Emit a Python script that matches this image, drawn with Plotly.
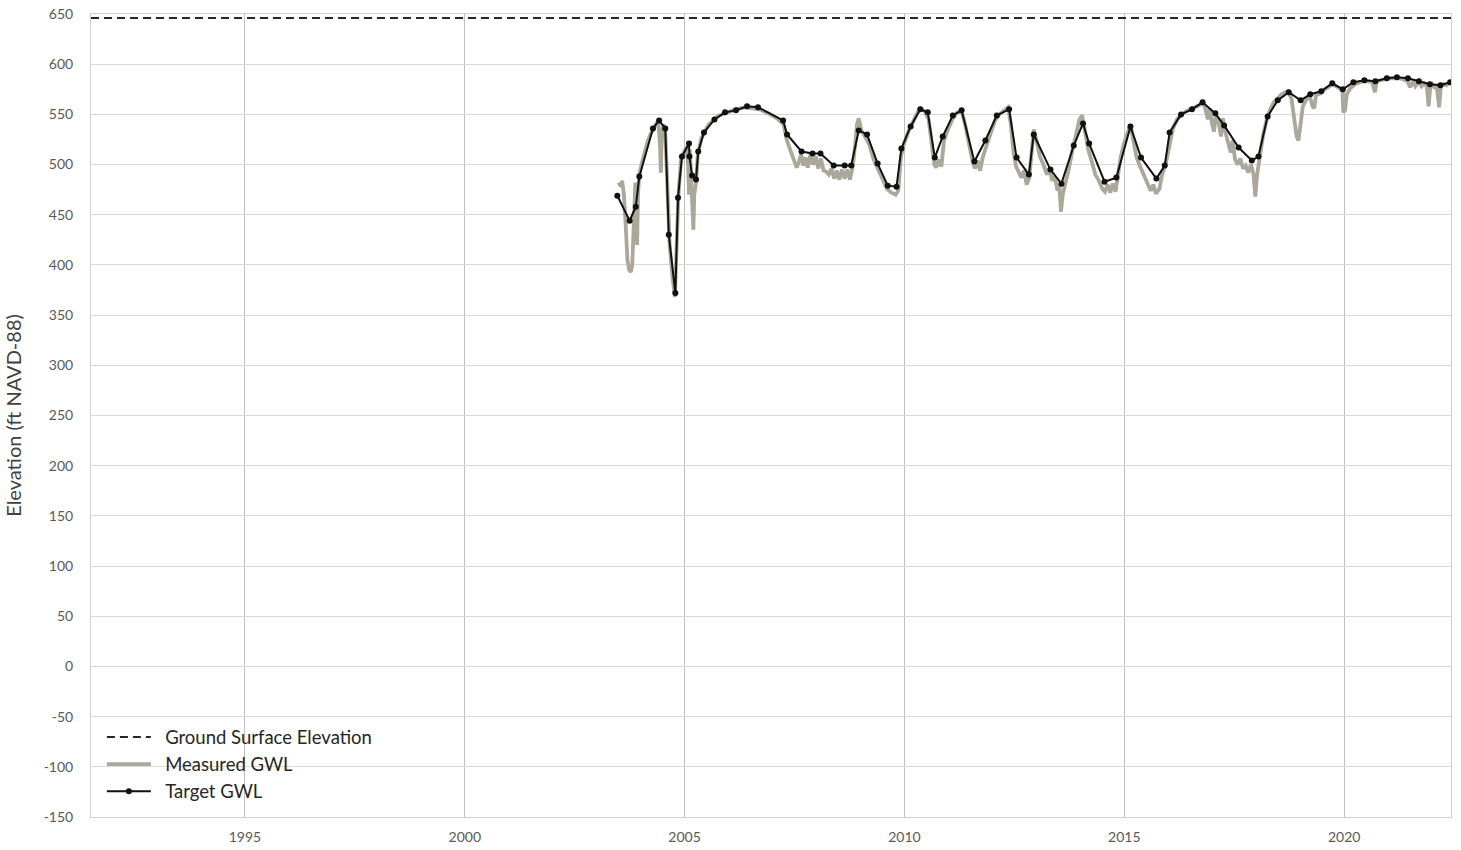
import plotly.graph_objects as go

# Ground surface elevation at the well (ft NAVD-88)
ground_elev = 646.0
axis_years = [1991.5, 2022.43]

# Target groundwater levels (decimal year, ft NAVD-88)
target_year = [2003.47, 2003.75, 2003.89, 2003.97, 2004.28, 2004.42, 2004.56, 2004.64, 2004.79, 2004.85,
               2004.94, 2005.10, 2005.11, 2005.17, 2005.26, 2005.31, 2005.44, 2005.68, 2005.92, 2006.17,
               2006.42, 2006.67, 2007.24, 2007.33, 2007.66, 2007.91, 2008.09, 2008.39, 2008.64, 2008.79,
               2008.96, 2009.15, 2009.39, 2009.62, 2009.82, 2009.93, 2010.14, 2010.36, 2010.53, 2010.69,
               2010.87, 2011.10, 2011.30, 2011.59, 2011.84, 2012.10, 2012.38, 2012.55, 2012.83, 2012.94,
               2013.32, 2013.57, 2013.85, 2014.06, 2014.20, 2014.55, 2014.82, 2015.14, 2015.38, 2015.73,
               2015.92, 2016.03, 2016.29, 2016.54, 2016.78, 2017.07, 2017.27, 2017.60, 2017.90, 2018.05,
               2018.26, 2018.49, 2018.74, 2019.01, 2019.23, 2019.48, 2019.73, 2019.97, 2020.21, 2020.46,
               2020.71, 2020.97, 2021.20, 2021.45, 2021.70, 2021.95, 2022.19, 2022.41]
target_val = [469, 444, 458, 488, 536, 544, 536, 430, 372, 467,
              508, 521, 508, 489, 485, 513, 532, 545, 552, 554,
              558, 557, 544, 530, 513, 511, 511, 499, 499, 499,
              534, 530, 501, 479, 478, 516, 538, 555, 552, 507,
              528, 549, 554, 503, 524, 549, 555, 507, 490, 530,
              495, 481, 519, 541, 521, 483, 487, 538, 507, 486,
              499, 532, 550, 555, 562, 551, 539, 517, 504, 508,
              548, 564, 572, 564, 570, 573, 581, 575, 582, 584,
              583, 586, 587, 586, 583, 580, 579, 582]

# Measured groundwater levels (decimal year, ft NAVD-88)
meas_year = [2003.50, 2003.55, 2003.58, 2003.62, 2003.66, 2003.70, 2003.74, 2003.78, 2003.81, 2003.84,
             2003.86, 2003.88, 2003.90, 2003.92, 2003.94, 2003.97, 2004.02, 2004.08, 2004.15, 2004.22,
             2004.30, 2004.36, 2004.40, 2004.44, 2004.46, 2004.48, 2004.52, 2004.56, 2004.60, 2004.66,
             2004.72, 2004.78, 2004.82, 2004.86, 2004.92, 2004.98, 2005.04, 2005.08, 2005.10, 2005.12,
             2005.15, 2005.18, 2005.20, 2005.22, 2005.26, 2005.30, 2005.38, 2005.46, 2005.55, 2005.65,
             2005.75, 2005.85, 2005.95, 2006.10, 2006.25, 2006.40, 2006.55, 2006.70, 2006.90, 2007.10,
             2007.25, 2007.32, 2007.40, 2007.48, 2007.55, 2007.60, 2007.65, 2007.70, 2007.75, 2007.80,
             2007.86, 2007.92, 2007.98, 2008.04, 2008.10, 2008.16, 2008.22, 2008.28, 2008.34, 2008.40,
             2008.46, 2008.52, 2008.58, 2008.64, 2008.70, 2008.76, 2008.82, 2008.88, 2008.92, 2008.96,
             2009.02, 2009.10, 2009.20, 2009.30, 2009.40, 2009.50, 2009.60, 2009.70, 2009.80, 2009.86,
             2009.92, 2010.00, 2010.10, 2010.20, 2010.30, 2010.38, 2010.46, 2010.55, 2010.62, 2010.68,
             2010.72, 2010.78, 2010.84, 2010.90, 2011.00, 2011.10, 2011.20, 2011.30, 2011.38, 2011.46,
             2011.54, 2011.60, 2011.66, 2011.72, 2011.78, 2011.86, 2011.96, 2012.06, 2012.16, 2012.26,
             2012.36, 2012.42, 2012.48, 2012.54, 2012.60, 2012.66, 2012.72, 2012.78, 2012.84, 2012.90,
             2012.94, 2013.00, 2013.08, 2013.16, 2013.24, 2013.30, 2013.36, 2013.42, 2013.48, 2013.52,
             2013.56, 2013.60, 2013.66, 2013.74, 2013.82, 2013.90, 2013.98, 2014.04, 2014.10, 2014.18,
             2014.26, 2014.34, 2014.42, 2014.50, 2014.56, 2014.62, 2014.68, 2014.74, 2014.80, 2014.86,
             2014.92, 2015.00, 2015.08, 2015.14, 2015.20, 2015.28, 2015.36, 2015.44, 2015.52, 2015.60,
             2015.66, 2015.72, 2015.80, 2015.86, 2015.94, 2016.02, 2016.10, 2016.20, 2016.30, 2016.40,
             2016.50, 2016.60, 2016.70, 2016.78, 2016.84, 2016.90, 2016.94, 2017.00, 2017.04, 2017.08,
             2017.14, 2017.20, 2017.24, 2017.30, 2017.36, 2017.42, 2017.46, 2017.52, 2017.58, 2017.64,
             2017.70, 2017.76, 2017.82, 2017.88, 2017.94, 2017.98, 2018.02, 2018.08, 2018.16, 2018.24,
             2018.32, 2018.40, 2018.48, 2018.58, 2018.66, 2018.72, 2018.80, 2018.86, 2018.92, 2018.96,
             2019.00, 2019.06, 2019.14, 2019.22, 2019.28, 2019.32, 2019.36, 2019.46, 2019.56, 2019.66,
             2019.74, 2019.82, 2019.90, 2019.96, 2019.98, 2020.02, 2020.06, 2020.14, 2020.24, 2020.34,
             2020.44, 2020.54, 2020.64, 2020.70, 2020.74, 2020.84, 2020.94, 2021.04, 2021.14, 2021.24,
             2021.34, 2021.44, 2021.50, 2021.56, 2021.62, 2021.70, 2021.76, 2021.82, 2021.88, 2021.92,
             2021.96, 2022.00, 2022.06, 2022.10, 2022.16, 2022.20, 2022.26, 2022.32, 2022.38, 2022.43]
meas_val = [482, 478, 484, 470, 440, 405, 395, 393, 400, 430,
            470, 482, 460, 420, 470, 490, 500, 512, 522, 530,
            537, 541, 544, 520, 492, 530, 540, 533, 480, 420,
            390, 368, 420, 470, 505, 512, 518, 500, 470, 515,
            490, 450, 435, 470, 482, 510, 526, 533, 540, 544,
            548, 550, 552, 554, 556, 557, 556, 555, 551, 546,
            540, 525, 515, 505, 497, 503, 510, 499, 507, 497,
            510, 500, 508, 496, 506, 494, 493, 490, 496, 486,
            494, 485, 495, 486, 495, 485, 497, 520, 540, 546,
            534, 528, 520, 505, 496, 486, 476, 472, 470, 474,
            508, 522, 534, 543, 552, 556, 553, 545, 520, 500,
            497, 505, 498, 524, 536, 546, 552, 553, 540, 520,
            505, 496, 504, 494, 507, 518, 532, 544, 550, 553,
            557, 540, 512, 498, 493, 487, 494, 480, 487, 515,
            535, 525, 508, 500, 490, 496, 484, 488, 474, 480,
            453, 470, 480, 496, 514, 530, 545, 549, 535, 515,
            503, 490, 484, 476, 473, 480, 472, 481, 473, 490,
            508, 522, 532, 540, 525, 507, 498, 490, 484, 474,
            480, 471, 476, 490, 500, 520, 535, 545, 550, 553,
            555, 558, 559, 562, 556, 545, 556, 540, 533, 549,
            543, 528, 546, 532, 520, 512, 524, 505, 500, 506,
            496, 499, 492, 500, 490, 468, 490, 508, 530, 545,
            555, 562, 566, 570, 572, 573, 566, 548, 528, 524,
            540, 558, 565, 568, 558, 556, 569, 571, 575, 578,
            580, 578, 576, 574, 552, 554, 570, 576, 580, 582,
            583, 583, 582, 572, 583, 584, 585, 586, 586, 586,
            585, 583, 577, 583, 578, 583, 578, 581, 578, 558,
            578, 580, 576, 580, 557, 578, 580, 579, 581, 582]

# Axis ticks
y_ticks = list(range(-150, 651, 50))
y_tick_text = [str(v) for v in y_ticks]
x_ticks = [1995, 2000, 2005, 2010, 2015, 2020]

FONT = "Lato, Carlito, Calibri, sans-serif"
GAP = "\u2002"  # spacing between legend symbol and label

fig = go.Figure()

fig.add_trace(go.Scatter(
    x=axis_years, y=[ground_elev, ground_elev], mode="lines",
    name=GAP + "Ground Surface Elevation",
    line=dict(color="#262626", width=2, dash="8px,5px"),
))

fig.add_trace(go.Scatter(
    x=meas_year, y=meas_val, mode="lines",
    name=GAP + "Measured GWL",
    line=dict(color="#aaa89b", width=3.8),
))

fig.add_trace(go.Scatter(
    x=target_year, y=target_val, mode="lines+markers",
    name=GAP + "Target GWL",
    line=dict(color="#111111", width=2),
    marker=dict(color="#111111", size=6),
))

fig.update_layout(
    width=1461, height=850,
    margin=dict(l=91, r=10, t=14, b=33),
    paper_bgcolor="white", plot_bgcolor="white",
    font=dict(family=FONT, color="#595959"),
    showlegend=True,
    legend=dict(
        x=0.008, y=0.008, xanchor="left", yanchor="bottom",
        bgcolor="rgba(0,0,0,0)", borderwidth=0,
        font=dict(family=FONT, size=18.5, color="#262626"),
        itemwidth=44, tracegroupgap=0,
    ),
    xaxis=dict(
        range=axis_years, tickmode="array", tickvals=x_ticks, automargin=False,
        showgrid=True, gridcolor="#bfbfbf", gridwidth=1,
        zeroline=False, showline=True, linecolor="#d0d0d0", linewidth=1, mirror=True,
        ticks="", ticklabelstandoff=7,
        tickfont=dict(family=FONT, size=14, color="#595959"),
    ),
    yaxis=dict(
        range=[-150, 650], tickmode="array", tickvals=y_ticks, ticktext=y_tick_text,
        automargin=False,
        showgrid=True, gridcolor="#d9d9d9", gridwidth=1,
        zeroline=False, showline=True, linecolor="#d0d0d0", linewidth=1, mirror=True,
        ticks="", ticklabelstandoff=14,
        tickfont=dict(family=FONT, size=14, color="#595959"),
        title=dict(text="Elevation (ft NAVD-88)", standoff=16,
                   font=dict(family=FONT, size=20, color="#404040")),
    ),
)

fig.write_html("out.html")
